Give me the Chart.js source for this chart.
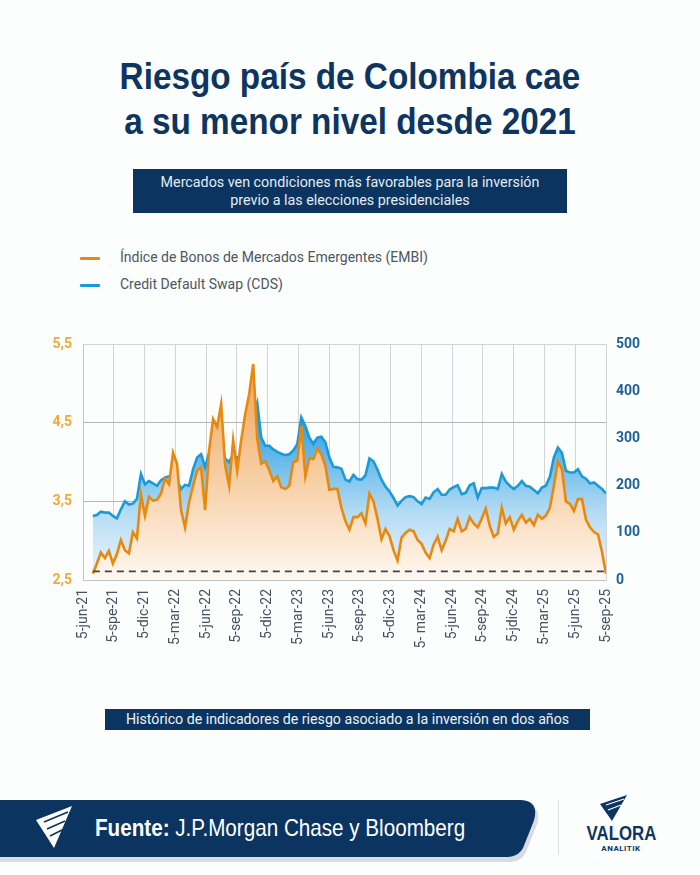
<!DOCTYPE html>
<html lang="es">
<head>
<meta charset="utf-8">
<script src="https://cdn.jsdelivr.net/npm/chart.js@4.4.1/dist/chart.umd.min.js"></script>
<style>
  html, body { margin: 0; padding: 0; }
  body { width: 700px; height: 875px; position: relative; background: #fcfdfd; overflow: hidden; font-family: Roboto, "Noto Sans", sans-serif; }
  .title { position: absolute; top: 54px; left: 0; width: 700px; text-align: center; font: bold 37px/45px "Liberation Sans", sans-serif; color: #0d3560; transform: scaleX(0.9); transform-origin: 350px 0; }
  .sub { position: absolute; left: 133px; top: 169px; width: 434px; height: 44px; background: #0b3560; color: #e4ebf3; font-size: 14.3px; line-height: 18px; text-align: center; box-sizing: border-box; padding-top: 4px; }
  .legend { position: absolute; left: 80px; font-size: 14px; color: #4b5763; }
  .legend span.sw { display: inline-block; width: 20px; height: 3px; vertical-align: middle; margin-right: 20px; border-radius: 1px; }
  #wrap { position: absolute; left: 0; top: 325px; width: 700px; height: 349px; }
  .caption { position: absolute; left: 105px; top: 709px; width: 485px; height: 21px; background: #0b3560; color: #eef2f7; font-size: 14.2px; line-height: 21px; text-align: center; }
  .src { position: absolute; left: 95px; top: 814px; font: 24px "Liberation Sans", sans-serif; color: #fff; transform: scaleX(0.86); transform-origin: 0 0; white-space: nowrap; }
  .sep { position: absolute; left: 558px; top: 800px; width: 1px; height: 55px; background: #dcdfe3; }
  .valora { position: absolute; left: 578px; top: 822px; width: 86px; text-align: center; color: #0d3560; }
  .valora b { display: block; font: bold 21px/22px "Liberation Sans", sans-serif; transform: scaleX(0.8); }
  .valora small { display: block; font: bold 8px/10px Roboto, sans-serif; letter-spacing: 0.5px; }
</style>
</head>
<body>
<div class="title">Riesgo país de Colombia cae<br>a su menor nivel desde 2021</div>
<div class="sub">Mercados ven condiciones más favorables para la inversión<br>previo a las elecciones presidenciales</div>
<div class="legend" style="top:249px"><span class="sw" style="background:#e8890f"></span>Índice de Bonos de Mercados Emergentes (EMBI)</div>
<div class="legend" style="top:276px"><span class="sw" style="background:#1b9ad8"></span>Credit Default Swap (CDS)</div>
<div id="wrap"><canvas id="chart" width="700" height="349"></canvas></div>
<div class="caption">Histórico de indicadores de riesgo asociado a la inversión en dos años</div>

<svg style="position:absolute;left:0;top:792px" width="560" height="75">
  <path d="M0,12 H522 C538,12 541,22 536,35 L526,60 C522,68 516,70 508,70 H0 Z" fill="#c9ccd1" opacity="0.7"/>
  <path d="M0,8 H520 C535,8 538,18 533,31 L523,56 C519,63 513,65 506,65 H0 Z" fill="#0b3560"/>
  <polygon points="36,28 72,14 54,56" fill="#ffffff"/>
  <path d="M44,30 L68,20 M47,37 L65,29 M50,44 L62,38" stroke="#0b3560" stroke-width="1.6"/>
</svg>
<div class="src"><b>Fuente:</b> J.P.Morgan Chase y Bloomberg</div>
<div class="sep"></div>
<svg style="position:absolute;left:598px;top:794px" width="32" height="28">
  <polygon points="2,10 29,1 14,27" fill="#0d3560"/>
  <path d="M8,11 L26,5 M10,16 L23,11" stroke="#fcfdfd" stroke-width="1.3"/>
</svg>
<div class="valora"><b>VALORA</b><small>ANALITIK</small></div>

<script>
// tick labels on the date axis (one per quarter)
const xTickLabels = ['5-jun-21', '5-spe-21', '5-dic-21', '5-mar-22', '5-jun-22', '5-sep-22', '5-dic-22', '5-mar-23',
  '5-jun-23', '5-sep-23', '5-dic-23', '5- mar-24', '5-jun-24', '5-sep-24', '5-jdic-24', '5-mar-25', '5-jun-25', '5-sep-25'];

// series span, in quarters since 5-jun-21
const seriesStart = 0.32;
const seriesEnd = 17;

// EMBI (%), left axis
const embi = [
  2.58, 2.71, 2.85, 2.78, 2.87, 2.71, 2.83, 3.01, 2.88, 2.84, 3.11, 3.03, 3.59, 3.32, 3.56, 3.51, 3.52, 3.60, 3.79, 3.72,
  4.12, 3.98, 3.39, 3.17, 3.49, 3.70, 3.89, 3.94, 3.39, 4.15, 4.55, 4.45, 4.74, 3.96, 3.70, 4.28, 3.89, 4.28, 4.61, 4.87,
  5.25, 4.30, 3.98, 4.01, 3.90, 3.76, 3.82, 3.68, 3.66, 3.70, 4.00, 4.02, 4.46, 3.82, 4.05, 4.04, 4.17, 4.10, 3.95, 3.65,
  3.66, 3.66, 3.42, 3.25, 3.14, 3.30, 3.30, 3.35, 3.22, 3.60, 3.50, 3.28, 3.02, 3.15, 3.06, 2.88, 2.75, 3.04, 3.10, 3.14,
  3.12, 3.01, 2.96, 2.85, 2.78, 2.95, 3.05, 2.88, 3.00, 3.15, 3.12, 3.28, 3.12, 3.15, 3.30, 3.22, 3.17, 3.28, 3.41, 3.19,
  3.05, 3.09, 3.42, 3.22, 3.30, 3.14, 3.25, 3.33, 3.23, 3.28, 3.20, 3.33, 3.28, 3.32, 3.42, 3.70, 4.01, 3.91, 3.50, 3.47,
  3.38, 3.53, 3.53, 3.27, 3.17, 3.11, 3.08, 2.86, 2.58
];

// CDS (pb), right axis
const cds = [
  136, 138, 145, 143, 143, 136, 131, 150, 167, 160, 162, 172, 225, 203, 210, 205, 200, 212, 217, 220,
  217, 214, 193, 202, 200, 235, 260, 267, 239, 270, 283, 267, 292, 258, 250, 267, 258, 267, 323, 359,
  352, 376, 302, 285, 285, 277, 272, 268, 265, 267, 275, 288, 345, 327, 302, 289, 302, 304, 292, 260,
  240, 239, 236, 213, 209, 223, 214, 213, 222, 258, 252, 234, 213, 198, 188, 174, 158, 168, 176, 178,
  176, 167, 161, 175, 172, 186, 193, 181, 181, 192, 197, 201, 182, 185, 201, 205, 175, 195, 195, 196,
  196, 193, 225, 209, 200, 193, 200, 210, 200, 198, 191, 184, 196, 200, 219, 260, 281, 270, 232, 228,
  228, 235, 220, 215, 205, 207, 200, 193, 184
];

// dashed reference level (EMBI scale)
const referenceLevel = 2.61;

function toPoints(values) {
  const step = (seriesEnd - seriesStart) / (values.length - 1);
  return values.map((v, i) => ({ x: seriesStart + i * step, y: v }));
}

function gradient(stops) {
  return ctx => {
    const { ctx: c, chartArea } = ctx.chart;
    if (!chartArea) return stops[0][1];
    const g = c.createLinearGradient(0, chartArea.top, 0, chartArea.bottom);
    stops.forEach(s => g.addColorStop(s[0], s[1]));
    return g;
  };
}

const tickFont = { family: 'Roboto', size: 14, weight: 'bold' };

new Chart(document.getElementById('chart'), {
  type: 'line',
  data: {
    datasets: [
      {
        label: 'ref', data: [{ x: seriesStart, y: referenceLevel }, { x: seriesEnd, y: referenceLevel }],
        yAxisID: 'y', borderColor: '#34495a', borderWidth: 1.8, borderDash: [7, 5], pointRadius: 0, fill: false, order: 0
      },
      {
        label: 'Índice de Bonos de Mercados Emergentes (EMBI)', data: toPoints(embi), yAxisID: 'y',
        borderColor: '#e8890f', borderWidth: 2.6, pointRadius: 0, tension: 0, fill: 'start', order: 1,
        backgroundColor: gradient([[0, '#eea154'], [0.3, '#f3b678'], [0.65, '#f8d6b2'], [1, '#fff8f1']])
      },
      {
        label: 'Credit Default Swap (CDS)', data: toPoints(cds), yAxisID: 'y1',
        borderColor: '#1b9ad8', borderWidth: 2.6, pointRadius: 0, tension: 0, fill: 'start', order: 2,
        backgroundColor: gradient([[0, '#1b8fd8'], [0.35, '#39a5e6'], [0.72, '#b6dcf4'], [1, '#eef7fd']])
      }
    ]
  },
  options: {
    responsive: false,
    animation: false,
    layout: { padding: 0 },
    plugins: { legend: { display: false }, tooltip: { enabled: false } },
    scales: {
      x: {
        type: 'linear', min: 0, max: 17,
        afterFit: s => { s.height = 94; },
        grid: { color: '#d2d4d6', drawTicks: false },
        border: { color: '#c4c6c8' },
        ticks: {
          stepSize: 1, autoSkip: false, minRotation: 90, maxRotation: 90, padding: 9,
          color: '#46525e', font: { family: 'Roboto', size: 14 },
          callback: v => xTickLabels[v] ?? ''
        }
      },
      y: {
        position: 'left', min: 2.5, max: 5.5,
        afterFit: s => { s.width = 83; },
        grid: { color: ctx => (ctx.index === 0 || ctx.index === 3) ? '#d2d4d6' : '#b4b6b8', drawTicks: false },
        border: { color: '#c4c6c8' },
        ticks: { stepSize: 1, padding: 11, color: '#f2a83a', font: tickFont, callback: v => v.toFixed(1).replace('.', ',') }
      },
      y1: {
        position: 'right', min: 0, max: 500,
        afterFit: s => { s.width = 94; },
        grid: { display: false, drawTicks: false },
        border: { color: '#d2d4d6' },
        ticks: { stepSize: 100, padding: 10, color: '#1f5f9a', font: tickFont }
      }
    }
  }
});
</script>
</body>
</html>
